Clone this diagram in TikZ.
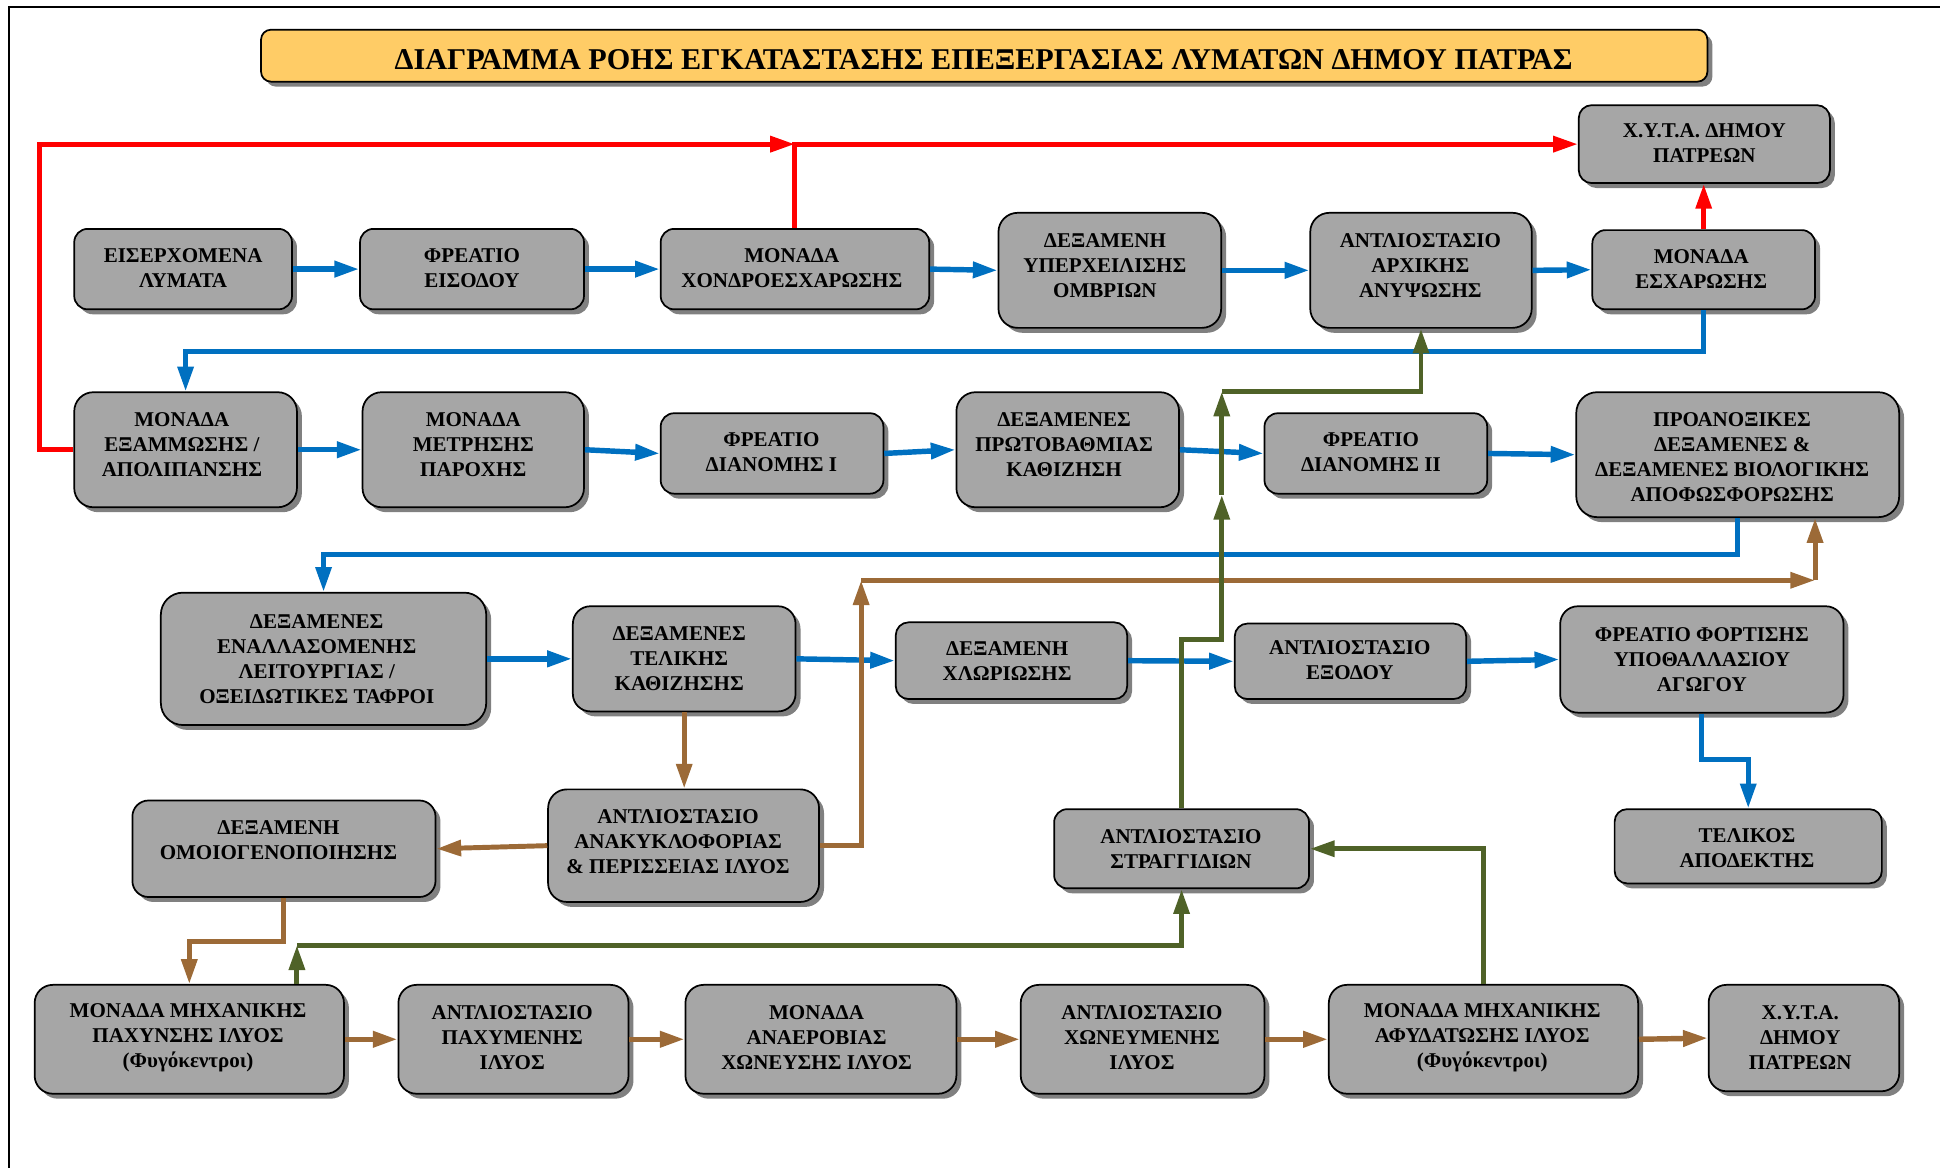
\documentclass[tikz,border=0pt]{standalone}
\usepackage{fontspec}
\setmainfont{Liberation Serif}
\usetikzlibrary{arrows.meta,shadows}

\definecolor{boxgray}{HTML}{A6A6A6}
\definecolor{shadegray}{HTML}{808080}
\definecolor{titlefill}{HTML}{FFCC66}
\definecolor{flowblue}{HTML}{0070C0}
\definecolor{flowred}{HTML}{FF0000}
\definecolor{flowbrown}{HTML}{9C6A37}
\definecolor{flowgreen}{HTML}{4F6228}

\tikzset{
  >={Triangle[length=20pt,width=12.5pt]},
  procbox/.style={draw=black, line width=1.4pt, fill=boxgray, inner sep=0pt,
    drop shadow={shadow xshift=4pt, shadow yshift=-4pt, fill=shadegray, opacity=1}},
  boxlabel/.style={align=center, inner sep=0pt, text=black,
    font=\fontsize{17pt}{20.2pt}\selectfont\bfseries},
  titlebox/.style={draw=black, line width=1.4pt, fill=titlefill, inner sep=0pt,
    rounded corners=8pt,
    drop shadow={shadow xshift=4pt, shadow yshift=-4pt, fill=shadegray, opacity=1}},
  titlelabel/.style={inner sep=0pt, font=\fontsize{24.4pt}{27pt}\selectfont\bfseries},
  blueflow/.style={draw=flowblue, line width=4.4pt, ->},
  bluelink/.style={draw=flowblue, line width=4pt, ->},
  redflow/.style={draw=flowred, line width=4pt, ->},
  brownflow/.style={draw=flowbrown, line width=4pt, ->},
  brownstep/.style={draw=flowbrown, line width=4.4pt, ->},
  greenflow/.style={draw=flowgreen, line width=4pt, ->},
}

% \unitbox[options]{name}{cx}{cy}{width}{height}{label x}{label y}{label}
\newcommand\unitbox[9][]{%
  \pgfmathsetmacro\boxrad{#6/6}%
  \node[procbox, rounded corners=\boxrad pt, minimum width=#5pt, minimum height=#6pt, #1]
    (#2) at (#3,#4) {};
  \node[boxlabel] (#2-lbl) at (#7,#8) {#9};
}

\begin{document}
\begin{tikzpicture}[x=1pt,y=-1pt]
\useasboundingbox (0,0) rectangle (1568,944);

% page border
\draw[line width=2.2pt] (7.3,944) -- (7.3,5.6) -- (1568,5.6);

% title
\node[titlebox, minimum width=1169pt, minimum height=42pt] (title) at (795.5,45) {};
\node[titlelabel] (title-lbl) at (795,48)
  {ΔΙΑΓΡΑΜΜΑ ΡΟΗΣ ΕΓΚΑΤΑΣΤΑΣΗΣ ΕΠΕΞΕΡΓΑΣΙΑΣ ΛΥΜΑΤΩΝ ΔΗΜΟΥ ΠΑΤΡΑΣ};

% row 1
\unitbox{inflow}{148}{217.5}{176}{65}{148}{217}{ΕΙΣΕΡΧΟΜΕΝΑ\\ΛΥΜΑΤΑ}
\unitbox{fin}{381.5}{217.5}{181}{65}{381.5}{217}{ΦΡΕΑΤΙΟ\\ΕΙΣΟΔΟΥ}
\unitbox{chondro}{642.5}{217.5}{217}{65}{640}{217}{ΜΟΝΑΔΑ\\ΧΟΝΔΡΟΕΣΧΑΡΩΣΗΣ}
\unitbox{ombrion}{897}{218.5}{180}{93}{893}{214.7}{ΔΕΞΑΜΕΝΗ\\ΥΠΕΡΧΕΙΛΙΣΗΣ\\ΟΜΒΡΙΩΝ}
\unitbox{anypsosi}{1148.5}{218.5}{179}{93}{1148}{214.7}{ΑΝΤΛΙΟΣΤΑΣΙΟ\\ΑΡΧΙΚΗΣ\\ΑΝΥΨΩΣΗΣ}
\unitbox{escharo}{1377}{218}{180}{64}{1375}{217.6}{ΜΟΝΑΔΑ\\ΕΣΧΑΡΩΣΗΣ}
\unitbox{xyta1}{1377.5}{116.5}{203}{63}{1377.5}{115.7}{Χ.Υ.Τ.Α. ΔΗΜΟΥ\\ΠΑΤΡΕΩΝ}

% row 2
\unitbox{examm}{150}{363.5}{180}{93}{147}{359.7}{ΜΟΝΑΔΑ\\ΕΞΑΜΜΩΣΗΣ /\\ΑΠΟΛΙΠΑΝΣΗΣ}
\unitbox{metrisi}{382.5}{363.5}{179}{93}{382.5}{359.7}{ΜΟΝΑΔΑ\\ΜΕΤΡΗΣΗΣ\\ΠΑΡΟΧΗΣ}
\unitbox{diani1}{624}{366.5}{180}{65}{623.5}{365.4}{ΦΡΕΑΤΙΟ\\ΔΙΑΝΟΜΗΣ Ι}
\unitbox{protob}{863}{363.5}{180}{93}{860}{359.7}{ΔΕΞΑΜΕΝΕΣ\\ΠΡΩΤΟΒΑΘΜΙΑΣ\\ΚΑΘΙΖΗΣΗ}
\unitbox{diani2}{1112}{366.5}{180}{65}{1108}{365.4}{ΦΡΕΑΤΙΟ\\ΔΙΑΝΟΜΗΣ ΙΙ}
\unitbox{proanox}{1404.5}{367.5}{261}{101}{1400}{369.6}{ΠΡΟΑΝΟΞΙΚΕΣ\\ΔΕΞΑΜΕΝΕΣ \&\\ΔΕΞΑΜΕΝΕΣ ΒΙΟΛΟΓΙΚΗΣ\\ΑΠΟΦΩΣΦΟΡΩΣΗΣ}

% row 3
\unitbox{enallas}{261.5}{532.5}{263}{107}{256}{532.5}{ΔΕΞΑΜΕΝΕΣ\\ΕΝΑΛΛΑΣΟΜΕΝΗΣ\\ΛΕΙΤΟΥΡΓΙΑΣ /\\ΟΞΕΙΔΩΤΙΚΕΣ ΤΑΦΡΟΙ}
\unitbox{teliki}{553}{532.5}{180}{85}{549}{532}{ΔΕΞΑΜΕΝΕΣ\\ΤΕΛΙΚΗΣ\\ΚΑΘΙΖΗΣΗΣ}
\unitbox{chlor}{817.5}{534}{187}{62}{814}{534.3}{ΔΕΞΑΜΕΝΗ\\ΧΛΩΡΙΩΣΗΣ}
\unitbox{exodos}{1091.5}{534.5}{187}{61}{1091}{533.8}{ΑΝΤΛΙΟΣΤΑΣΙΟ\\ΕΞΟΔΟΥ}
\unitbox{fortisi}{1375.5}{533}{229}{86}{1375.5}{533}{ΦΡΕΑΤΙΟ ΦΟΡΤΙΣΗΣ\\ΥΠΟΘΑΛΛΑΣΙΟΥ\\ΑΓΩΓΟΥ}

% row 4
\unitbox{omoiog}{229.5}{686}{245}{78}{225}{679}{ΔΕΞΑΜΕΝΗ\\ΟΜΟΙΟΓΕΝΟΠΟΙΗΣΗΣ}
\unitbox{anakykl}{552.5}{683.5}{219}{91}{548}{680.5}{ΑΝΤΛΙΟΣΤΑΣΙΟ\\ΑΝΑΚΥΚΛΟΦΟΡΙΑΣ\\\& ΠΕΡΙΣΣΕΙΑΣ ΙΛΥΟΣ}
\unitbox{strangg}{955}{686}{206}{64}{954.5}{686}{ΑΝΤΛΙΟΣΤΑΣΙΟ\\ΣΤΡΑΓΓΙΔΙΩΝ}
\unitbox{telikos}{1413}{684}{216}{60}{1412}{685.7}{ΤΕΛΙΚΟΣ\\ΑΠΟΔΕΚΤΗΣ}

% row 5
\unitbox{pachyn}{153}{840}{250}{88}{152}{838.5}{ΜΟΝΑΔΑ ΜΗΧΑΝΙΚΗΣ\\ΠΑΧΥΝΣΗΣ ΙΛΥΟΣ\\(Φυγόκεντροι)}
\unitbox{pachym}{415}{840}{186}{88}{414}{838.5}{ΑΝΤΛΙΟΣΤΑΣΙΟ\\ΠΑΧΥΜΕΝΗΣ\\ΙΛΥΟΣ}
\unitbox{anaer}{663.5}{840}{219}{88}{660}{838.5}{ΜΟΝΑΔΑ\\ΑΝΑΕΡΟΒΙΑΣ\\ΧΩΝΕΥΣΗΣ ΙΛΥΟΣ}
\unitbox{chonev}{923.5}{840}{197}{88}{923}{838.5}{ΑΝΤΛΙΟΣΤΑΣΙΟ\\ΧΩΝΕΥΜΕΝΗΣ\\ΙΛΥΟΣ}
\unitbox{afyd}{1199}{840}{250}{88}{1198}{838.5}{ΜΟΝΑΔΑ ΜΗΧΑΝΙΚΗΣ\\ΑΦΥΔΑΤΩΣΗΣ ΙΛΥΟΣ\\(Φυγόκεντροι)}
\unitbox{xyta2}{1458}{839}{154}{86}{1455}{838.5}{Χ.Υ.Τ.Α.\\ΔΗΜΟΥ\\ΠΑΤΡΕΩΝ}

% junction points of the return lines
\coordinate (redjoin) at (chondro.north |- xyta1.west);
\coordinate (brA) at (696,469);
\coordinate (brB) at (1467,469);
\coordinate (grA) at (240,764);
\coordinate (grB) at (987.5,517);
\coordinate (grC) at (987.5,400);
\coordinate (grD) at (987.5,316.5);

% liquid line, step to step
\draw[blueflow] (inflow.east) -- (fin.west);
\draw[blueflow] (fin.east) -- (chondro.west);
\draw[blueflow] (chondro.east) -- (ombrion.west);
\draw[blueflow] (ombrion.east) -- (anypsosi.west);
\draw[blueflow] (anypsosi.east) -- (escharo.west);
\draw[blueflow] (examm.east) -- (metrisi.west);
\draw[blueflow] (metrisi.east) -- (diani1.west);
\draw[blueflow] (diani1.east) -- (protob.west);
\draw[blueflow] (protob.east) -- (diani2.west);
\draw[blueflow] (diani2.east) -- (proanox.west);
\draw[blueflow] (enallas.east) -- (teliki.west);
\draw[blueflow] (teliki.east) -- (chlor.west);
\draw[blueflow] (chlor.east) -- (exodos.west);
\draw[blueflow] (exodos.east) -- (fortisi.west);

% liquid line, row to row
\draw[bluelink] (escharo.south) -- (escharo.south |- 0,284) -| (examm.north);
\draw[bluelink] (proanox.south) -- (proanox.south |- 0,448) -| (enallas.north);
\draw[bluelink] (fortisi.south) -- (fortisi.south |- 0,614) -| (telikos.north);

% screenings and grit to landfill
\draw[redflow] (examm.west) -- (examm.west -| 32,0) |- (redjoin);
\draw[redflow] (chondro.north) |- (xyta1.west);
\draw[redflow] (escharo.north) -- (escharo.north |- xyta1.south);

% sludge line
\draw[brownflow] (teliki.south) -- (teliki.south |- anakykl.north);
\draw[brownflow] (anakykl.east) -| (brA);
\draw[brownflow] (brA) -- (brB);
\draw[brownflow] (brB) -- (brB |- proanox.south);
\draw[brownflow] (anakykl.west) -- (omoiog.east);
\draw[brownflow] (omoiog.south) -- (omoiog.south |- 0,761) -| (pachyn.north);
\draw[brownstep] (pachyn.east) -- (pachym.west);
\draw[brownstep] (pachym.east) -- (anaer.west);
\draw[brownstep] (anaer.east) -- (chonev.west);
\draw[brownstep] (chonev.east) -- (afyd.west);
\draw[brownstep] (afyd.east) -- (xyta2.west);

% drainage returns
\draw[greenflow] (grA |- pachyn.north) -- (grA);
\draw[greenflow] (grA) -| (strangg.south);
\draw[greenflow] (afyd.north) |- (strangg.east);
\draw[greenflow] (strangg.north) |- (grB) -- (grC);
\draw[greenflow] (grC) -- (grD);
\draw[greenflow] (grD) -| (anypsosi.south);

\end{tikzpicture}
\end{document}
